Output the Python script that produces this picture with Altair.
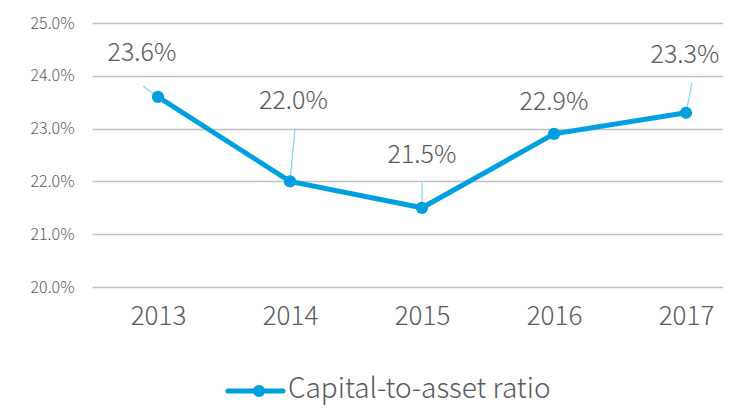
import altair as alt
import pandas as pd

# ---- data ----
years = [2013, 2014, 2015, 2016, 2017]
ratio = [23.6, 22.0, 21.5, 22.9, 23.3]
labels = ["23.6%", "22.0%", "21.5%", "22.9%", "23.3%"]
series_name = "Capital-to-asset ratio"
y_ticks = [20, 21, 22, 23, 24, 25]

# ---- layout (pixels) ----
W, H = 631, 264
PX_PER_YEAR = 132.0
PX_PER_PCT = H / 5.0
label_dx = [-16, 3.5, 0, 0, -1]
label_dy = [-44, -80.5, -53, -32, -58]
lead_dx = [-15, 5, 0, 0, 6]
lead_dy = [-11, -53, -25, 0, -30]

FONT = "Noto Sans CJK JP"
BLUE = "#009FDF"
GREY_TXT = "#595959"

df = pd.DataFrame({"year": years, "ratio": ratio, "label": labels})
df["lx"] = df["year"] + pd.Series(label_dx) / PX_PER_YEAR
df["ly"] = df["ratio"] - pd.Series(label_dy) / PX_PER_PCT
df["sx"] = df["year"] + pd.Series(lead_dx) / PX_PER_YEAR
df["sy"] = df["ratio"] - pd.Series(lead_dy) / PX_PER_PCT

xscale = alt.Scale(domain=[2012.5, 2012.5 + W / PX_PER_YEAR], nice=False, zero=False)
yscale = alt.Scale(domain=[20, 25], nice=False, zero=False)

x_enc = alt.X("year:Q", scale=xscale, axis=alt.Axis(
    values=years, format="d", title=None, grid=False, domain=False, ticks=False,
    labelFontSize=26, labelColor=GREY_TXT, labelFont=FONT, labelFontWeight=300, labelPadding=16))
y_enc = alt.Y("ratio:Q", scale=yscale, axis=alt.Axis(
    values=y_ticks, labelExpr="format(datum.value, '.1f') + '%'", title=None,
    grid=True, gridColor="#bfbfbf", gridWidth=1.5, domain=False, ticks=False,
    labelFontSize=16, labelColor=GREY_TXT, labelFont=FONT, labelFontWeight=300, labelPadding=18))

base = alt.Chart(df)

line = base.mark_line(color=BLUE, strokeWidth=5).encode(x=x_enc, y=y_enc)
pts = base.mark_point(filled=True, color=BLUE, size=150, opacity=1).encode(x="year:Q", y="ratio:Q")
leaders = base.mark_rule(color="#7fd3f7", strokeWidth=1.2).encode(
    x="sx:Q", y="sy:Q", x2="year:Q", y2="ratio:Q")
txt = base.mark_text(fontSize=25, color=GREY_TXT, font=FONT, fontWeight=300,
                     baseline="middle", align="center").encode(
    x="lx:Q", y="ly:Q", text="label:N")

LEG_Y = 368
leg_df = pd.DataFrame({"name": [series_name]})
leg_base = alt.Chart(leg_df)
leg_line = leg_base.mark_rule(color=BLUE, strokeWidth=5, strokeCap="round").encode(
    x=alt.value(136), x2=alt.value(191), y=alt.value(LEG_Y))
leg_pt = leg_base.mark_point(filled=True, color=BLUE, size=150, opacity=1).encode(
    x=alt.value(167), y=alt.value(LEG_Y))
leg_txt = leg_base.mark_text(fontSize=28, color=GREY_TXT, font=FONT, fontWeight=300,
                             align="left", baseline="middle").encode(
    x=alt.value(196), y=alt.value(LEG_Y - 1), text="name:N")

chart = alt.layer(leaders, line, pts, txt, leg_line, leg_pt, leg_txt).properties(
    width=W, height=H,
    autosize=alt.AutoSizeParams(type="none"),
    padding={"left": 84, "top": 15, "right": 0, "bottom": 119},
).configure_view(stroke=None)

chart.save("out.html", embed_options={"renderer": "svg", "actions": False})
